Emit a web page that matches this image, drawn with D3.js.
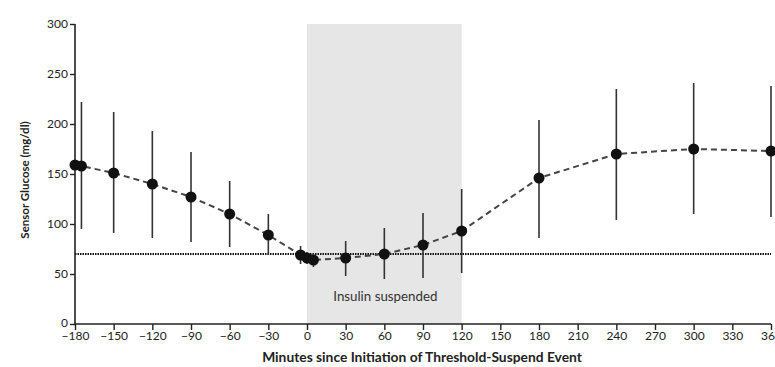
<!DOCTYPE html>
<html>
<head>
<meta charset="utf-8">
<script src="https://cdn.jsdelivr.net/npm/d3@7"></script>
<style>
  body { margin: 0; background: #fff; }
  #chart svg { display: block; }
  .tick text { font-family: Lato, "Open Sans", sans-serif; font-size: 12px; fill: #222; }
  .axis-title { font-family: Lato, "Open Sans", sans-serif; font-weight: bold; fill: #222; }
</style>
</head>
<body>
<div id="chart"></div>
<script>
// minutes since initiation of threshold-suspend event
const minutes = [-180, -175, -150, -120, -90, -60, -30, -5, 0, 5, 30, 60, 90, 120, 180, 240, 300, 360];
// mean sensor glucose (mg/dl)
const glucose = [159, 158, 151, 140, 127, 110, 89, 69, 66, 64, 66, 70, 79, 93, 146, 170, 175, 173];
// error bar ends (null = no bar drawn)
const errLow = [null, 95, 91, 86, 82, 77, 69, 60, 60, 57, 48, 45, 46, 51, 86, 104, 110, 107];
const errHigh = [null, 222, 212, 193, 172, 143, 110, 78, 72, 70, 83, 96, 111, 135, 204, 235, 241, 238];

const xTicks = d3.range(-180, 361, 30);
const yTicks = [0, 50, 100, 150, 200, 250, 300];
const threshold = 70;
const suspendWindow = [0, 120];

const width = 775;
const height = 367;

const svg = d3.select("#chart")
  .append("svg")
  .attr("width", width)
  .attr("height", height);

const x = d3.scaleLinear().domain([-180, 360]).range([75, 771]);
const y = d3.scaleLinear().domain([0, 300]).range([324, 24]);

// shaded suspend window
svg.append("rect")
  .attr("x", x(suspendWindow[0]))
  .attr("y", y(300))
  .attr("width", x(suspendWindow[1]) - x(suspendWindow[0]))
  .attr("height", y(0) - y(300))
  .attr("fill", "#e6e6e6");

svg.append("text")
  .attr("x", (x(suspendWindow[0]) + x(suspendWindow[1])) / 2 + 1)
  .attr("y", 301)
  .attr("text-anchor", "middle")
  .style("font-family", "Lato, 'Open Sans', sans-serif")
  .style("font-size", "13.3px")
  .style("fill", "#333")
  .text("Insulin suspended");

// threshold line
svg.append("line")
  .attr("x1", x(-180))
  .attr("x2", x(360))
  .attr("y1", y(threshold))
  .attr("y2", y(threshold))
  .attr("stroke", "#111")
  .attr("stroke-width", 2)
  .attr("stroke-dasharray", "1.5,1");

const data = minutes.map((m, i) => ({ m, g: glucose[i], lo: errLow[i], hi: errHigh[i] }));

// error bars
svg.selectAll(".err")
  .data(data.filter(d => d.lo !== null))
  .enter()
  .append("line")
  .attr("class", "err")
  .attr("x1", d => x(d.m))
  .attr("x2", d => x(d.m))
  .attr("y1", d => y(d.lo))
  .attr("y2", d => y(d.hi))
  .attr("stroke", "#333")
  .attr("stroke-width", 1.6);

// dashed mean line
const line = d3.line()
  .x(d => x(d.m))
  .y(d => y(d.g));

svg.append("path")
  .datum(data)
  .attr("d", line)
  .attr("fill", "none")
  .attr("stroke", "#444")
  .attr("stroke-width", 2)
  .attr("stroke-dasharray", "6,4");

// axes
const xAxis = svg.append("g")
  .attr("transform", `translate(0,${y(0)})`)
  .call(d3.axisBottom(x).tickValues(xTicks).tickSize(6).tickPadding(1.5)
    .tickFormat(d => d < 0 ? "\u2212" + Math.abs(d) : d));

const yAxis = svg.append("g")
  .attr("transform", `translate(${x(-180)},0)`)
  .call(d3.axisLeft(y).tickValues(yTicks).tickSize(5).tickPadding(2));

[xAxis, yAxis].forEach(g => {
  g.select(".domain").attr("stroke", "#222").attr("stroke-width", 1.6);
  g.selectAll(".tick line").attr("stroke", "#222").attr("stroke-width", 1.4);
});
yAxis.select(".domain").attr("d", `M0,${y(0)}V${y(300)}`);
xAxis.select(".domain").attr("d", `M${x(-180)},0H${x(360)}`);
// lift the y "0" a touch so it clears the x labels
yAxis.selectAll(".tick text").filter(d => d === 0).attr("dy", "0.2em");

// points
svg.selectAll(".pt")
  .data(data)
  .enter()
  .append("circle")
  .attr("class", "pt")
  .attr("cx", d => x(d.m))
  .attr("cy", d => y(d.g))
  .attr("r", 5.5)
  .attr("fill", "#111");

// axis titles
svg.append("text")
  .attr("class", "axis-title")
  .attr("x", 422)
  .attr("y", 362)
  .attr("text-anchor", "middle")
  .style("font-size", "13.8px")
  .text("Minutes since Initiation of Threshold-Suspend Event");

svg.append("text")
  .attr("class", "axis-title")
  .attr("transform", `translate(29,${y(150) + 6}) rotate(-90)`)
  .attr("text-anchor", "middle")
  .style("font-size", "11.5px")
  .text("Sensor Glucose (mg/dl)");
</script>
</body>
</html>
